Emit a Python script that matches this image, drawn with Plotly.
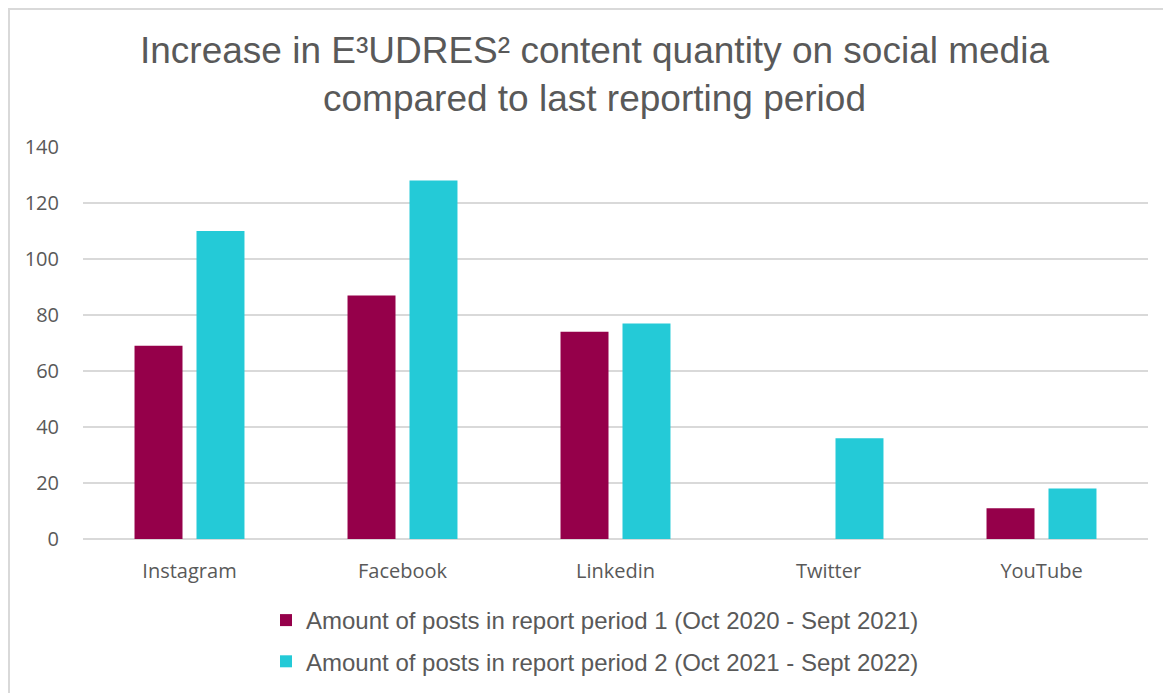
import plotly.graph_objects as go

categories = ["Instagram", "Facebook", "Linkedin", "Twitter", "YouTube"]
period1 = [69, 87, 74, 0, 11]
period2 = [110, 128, 77, 36, 18]
series_names = [
    "Amount of posts in report period 1 (Oct 2020 - Sept 2021)",
    "Amount of posts in report period 2 (Oct 2021 - Sept 2022)",
]
colors = ["#95004A", "#24CAD7"]
title_text = "Increase in E³UDRES² content quantity on social media<br>compared to last reporting period"

OFF = 8  # page body margin
W, H = 1171 - OFF, 693 - OFF
# plot area in reference-pixel coordinates
PX0, PX1, PY0, PY1 = 83, 1148, 147, 539
L, R, T, B = PX0 - OFF, W - (PX1 - OFF), PY0 - OFF, H - (PY1 - OFF)
pw, ph = W - L - R, H - T - B

def px(x):
    return (x - PX0) / pw

def py(y):
    return (PY1 - y) / ph

fig = go.Figure()
for i, (name, vals, c) in enumerate(zip(series_names, [period1, period2], colors)):
    fig.add_trace(go.Bar(
        x=categories, y=vals, name=name, legendgroup=f"g{i}",
        marker=dict(color=c, line=dict(width=0)),
    ))

fig.update_layout(
    width=W, height=H,
    margin=dict(l=L, r=R, t=T, b=B, autoexpand=False),
    paper_bgcolor="white", plot_bgcolor="white",
    barmode="group", bargap=0.418, bargroupgap=0.226,
    title=dict(
        text=title_text,
        x=(594.5 - OFF) / W, xref="container", xanchor="center",
        y=1 - (63 - OFF) / H, yref="container", yanchor="middle",
        font=dict(family="Liberation Sans, Arial", size=37, color="#595959"),
    ),
    xaxis=dict(
        showgrid=False, showline=False, ticks="", ticklabelstandoff=18,
        tickfont=dict(family="Open Sans", size=20, color="#595959"),
    ),
    yaxis=dict(
        range=[0, 140], dtick=20, tick0=0,
        showgrid=True, gridcolor="#D9D9D9", gridwidth=2,
        zeroline=True, zerolinecolor="#D9D9D9", zerolinewidth=2,
        showline=False, ticks="", ticklabelstandoff=23,
        tickfont=dict(family="Open Sans", size=20, color="#595959"),
    ),
    legend=dict(
        orientation="v",
        x=px(266), xanchor="left",
        y=py(598), yanchor="top",
        font=dict(family="Liberation Sans, Arial", size=24, color="#595959"),
        tracegroupgap=7, itemwidth=30,
        bgcolor="rgba(0,0,0,0)",
    ),
    showlegend=True,
)

fig.add_shape(
    type="rect", xref="paper", yref="paper",
    x0=px(9), x1=px(1190), y0=py(9), y1=py(710),
    line=dict(color="#D9D9D9", width=2), fillcolor="rgba(0,0,0,0)", layer="below",
)

fig.write_html("out.html")
